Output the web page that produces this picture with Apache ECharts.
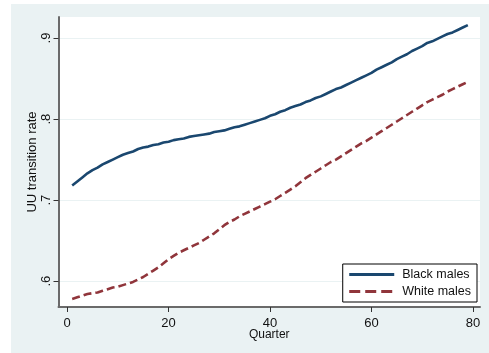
<!DOCTYPE html>
<html>
<head>
<meta charset="utf-8">
<style>
  html, body { margin: 0; padding: 0; background: #ffffff; }
  #chart { position: absolute; left: 11px; top: 4px; width: 478px; height: 349px; background: #EAF2F3; }
</style>
<script src="https://cdn.jsdelivr.net/npm/echarts@6/dist/echarts.min.js"></script>
</head>
<body>
<div id="chart"></div>
<script>
// Quarters 1..79
const quarters = [];
for (let q = 1; q <= 79; q++) quarters.push(q);

// UU transition rate, black males
const blackMales = [
  0.718, 0.723, 0.728, 0.733, 0.737, 0.740, 0.744, 0.747, 0.750, 0.753,
  0.756, 0.758, 0.760, 0.763, 0.765, 0.766, 0.768, 0.769, 0.771, 0.772,
  0.774, 0.775, 0.776, 0.778, 0.779, 0.780, 0.781, 0.782, 0.784, 0.785,
  0.786, 0.788, 0.790, 0.791, 0.793, 0.795, 0.797, 0.799, 0.801, 0.804,
  0.806, 0.809, 0.811, 0.814, 0.816, 0.818, 0.821, 0.823, 0.826, 0.828,
  0.831, 0.834, 0.837, 0.839, 0.842, 0.845, 0.848, 0.851, 0.854, 0.857,
  0.861, 0.864, 0.867, 0.870, 0.874, 0.877, 0.880, 0.884, 0.887, 0.890,
  0.894, 0.896, 0.899, 0.902, 0.905, 0.907, 0.910, 0.913, 0.916
];

// UU transition rate, white males
const whiteMales = [
  0.578, 0.580, 0.582, 0.584, 0.585, 0.586, 0.588, 0.590, 0.592, 0.593,
  0.595, 0.597, 0.599, 0.602, 0.605, 0.609, 0.613, 0.617, 0.622, 0.627,
  0.631, 0.635, 0.638, 0.641, 0.644, 0.647, 0.651, 0.655, 0.659, 0.664,
  0.669, 0.673, 0.676, 0.680, 0.683, 0.686, 0.689, 0.692, 0.695, 0.698,
  0.701, 0.705, 0.709, 0.713, 0.717, 0.722, 0.727, 0.731, 0.735, 0.739,
  0.743, 0.747, 0.750, 0.754, 0.758, 0.762, 0.766, 0.770, 0.773, 0.777,
  0.781, 0.785, 0.789, 0.793, 0.797, 0.801, 0.805, 0.809, 0.813, 0.817,
  0.821, 0.824, 0.827, 0.830, 0.834, 0.837, 0.840, 0.843, 0.846
];

const xTicks = [0, 20, 40, 60, 80];
const yTicks = [0.6, 0.7, 0.8, 0.9];

const NAVY = '#1A476F';
const MAROON = '#90353B';
const FONT = 'Liberation Sans, Arial, sans-serif';

const chart = echarts.init(document.getElementById('chart'), null, { renderer: 'canvas' });

chart.setOption({
  animation: false,
  backgroundColor: '#EAF2F3',
  textStyle: { fontFamily: FONT },
  grid: {
    left: 47.5, top: 13, right: 9, bottom: 46,
    show: true, backgroundColor: '#ffffff', borderWidth: 0
  },
  legend: {
    right: 12, top: 260,
    orient: 'vertical',
    backgroundColor: '#ffffff',
    borderColor: '#000000', borderWidth: 1, borderRadius: 0,
    padding: [4, 6, 4, 5],
    itemGap: 4,
    itemWidth: 45, itemHeight: 12,
    itemStyle: { opacity: 0 },
    textStyle: { fontFamily: FONT, fontSize: 12.5, color: '#111111', padding: [0, 0, 0, 3] },
    data: [
      { name: 'Black males', lineStyle: { width: 3, type: 'solid' } },
      { name: 'White males', lineStyle: { width: 3, type: [11, 5] } }
    ]
  },
  xAxis: {
    type: 'value',
    min: -1.7, max: 81.4,
    name: 'Quarter',
    nameLocation: 'middle',
    nameGap: 22,
    nameMoveOverlap: false,
    nameTextStyle: { fontFamily: FONT, fontSize: 12, color: '#111111' },
    axisLine: { show: true, onZero: false, lineStyle: { color: '#6a6a6a', width: 2 } },
    axisTick: { show: true, customValues: xTicks, length: 5, lineStyle: { color: '#333333', width: 1 } },
    axisLabel: { customValues: xTicks, margin: 10, fontFamily: FONT, fontSize: 13, color: '#111111' },
    splitLine: { show: false }
  },
  yAxis: {
    type: 'value',
    min: 0.568, max: 0.926,
    name: 'UU transition rate',
    nameLocation: 'middle',
    nameRotate: 90,
    nameGap: 20,
    nameMoveOverlap: false,
    nameTextStyle: { fontFamily: FONT, fontSize: 13, color: '#111111' },
    axisLine: { show: true, onZero: false, lineStyle: { color: '#6a6a6a', width: 2 } },
    axisTick: { show: true, customValues: yTicks, length: 5, lineStyle: { color: '#333333', width: 1 } },
    axisLabel: {
      customValues: yTicks, rotate: 90, margin: 6,
      fontFamily: FONT, fontSize: 13, color: '#111111',
      formatter: v => String(Math.round(v * 10) / 10).replace(/^0/, '')
    },
    splitLine: { show: true, customValues: yTicks, lineStyle: { color: '#EAF2F3', width: 1 } }
  },
  series: [
    {
      name: 'Black males',
      type: 'line',
      data: quarters.map((q, i) => [q, blackMales[i]]),
      showSymbol: false, symbol: 'none',
      lineStyle: { color: NAVY, width: 2.6 },
      itemStyle: { color: NAVY }
    },
    {
      name: 'White males',
      type: 'line',
      data: quarters.map((q, i) => [q, whiteMales[i]]),
      showSymbol: false, symbol: 'none',
      lineStyle: { color: MAROON, width: 2.6, type: [8, 4] },
      itemStyle: { color: MAROON }
    }
  ]
});
</script>
</body>
</html>
